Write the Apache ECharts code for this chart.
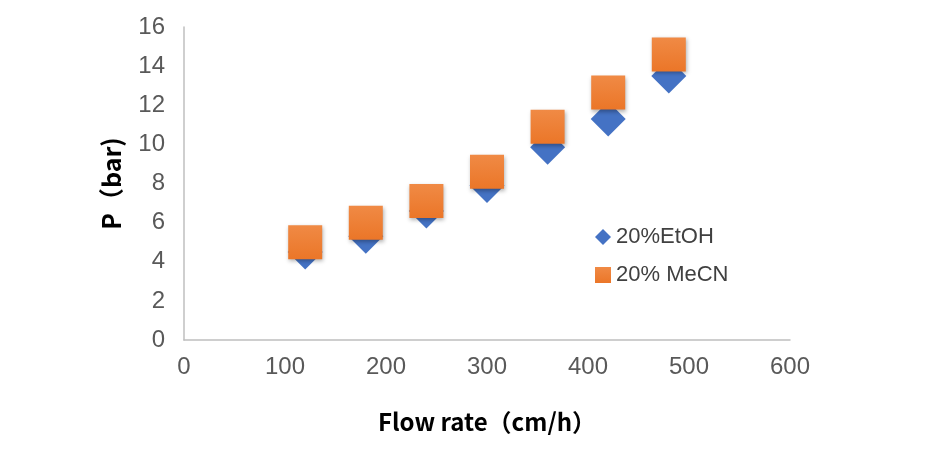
<!DOCTYPE html>
<html>
<head>
<meta charset="utf-8">
<script src="https://cdn.jsdelivr.net/npm/echarts@6/dist/echarts.min.js"></script>
<style>
  html, body { margin: 0; padding: 0; background: #fff; }
  #chart { width: 952px; height: 456px; }
</style>
</head>
<body>
<div id="chart"></div>
<script>
// 流速 (cm/h)
var flowRate = [120, 180, 240, 300, 360, 420, 480];
// 压力 (bar)
var etohP = [4.5, 5.3, 6.6, 7.9, 9.85, 11.3, 13.5];
var mecnP = [5.0, 6.0, 7.1, 8.6, 10.9, 12.65, 14.6];
var seriesNames = ['20%EtOH', '20% MeCN'];

function pairs(xs, ys) {
  return xs.map(function (x, i) { return [x, ys[i]]; });
}

var myChart = echarts.init(document.getElementById('chart'));
var option = {
  backgroundColor: '#fff',
  animation: false,
  grid: { left: 184, right: 162, top: 27, bottom: 116 },
  legend: {
    orient: 'vertical',
    left: 590,
    top: 221,
    itemGap: 16,
    itemWidth: 16,
    itemHeight: 16,
    itemStyle: { opacity: 1, shadowBlur: 0 },
    textStyle: { fontSize: 22, color: '#404040', fontFamily: 'Liberation Sans' },
    data: [
      { name: seriesNames[0], icon: 'diamond' },
      { name: seriesNames[1], icon: 'rect' }
    ]
  },
  xAxis: {
    type: 'value',
    min: 0, max: 600, interval: 100,
    name: 'Flow rate（cm/h）',
    nameLocation: 'middle',
    nameGap: 70,
    nameTextStyle: { fontSize: 24, fontWeight: 'bold', color: '#000', fontFamily: 'Noto Sans CJK SC' },
    axisLine: { lineStyle: { color: '#bfbfbf', width: 1.5 } },
    axisTick: { show: false },
    splitLine: { show: false },
    axisLabel: { fontSize: 24, color: '#595959', margin: 15, fontFamily: 'Liberation Sans' }
  },
  yAxis: {
    type: 'value',
    min: 0, max: 16, interval: 2,
    name: 'P（bar)',
    nameLocation: 'middle',
    nameGap: 60,
    nameTextStyle: { fontSize: 25, fontWeight: 'bold', color: '#000', fontFamily: 'Noto Sans CJK SC' },
    axisLine: { show: true, lineStyle: { color: '#bfbfbf', width: 1.5 } },
    axisTick: { show: false },
    splitLine: { show: false },
    axisLabel: { fontSize: 24, color: '#595959', margin: 19, fontFamily: 'Liberation Sans' }
  },
  series: [
    {
      name: seriesNames[0],
      type: 'scatter',
      symbol: 'diamond',
      symbolSize: 35,
      itemStyle: { color: '#4472C4', opacity: 1 },
      data: pairs(flowRate, etohP)
    },
    {
      name: seriesNames[1],
      type: 'scatter',
      symbol: 'rect',
      symbolSize: 34,
      itemStyle: {
        color: new echarts.graphic.LinearGradient(0, 0, 0, 1, [
          { offset: 0, color: '#F08A45' },
          { offset: 1, color: '#EB7628' }
        ]),
        opacity: 1,
        shadowBlur: 4,
        shadowOffsetX: 1,
        shadowOffsetY: 2,
        shadowColor: 'rgba(0,0,0,0.3)'
      },
      data: pairs(flowRate, mecnP)
    }
  ]
};
myChart.setOption(option);
</script>
</body>
</html>
